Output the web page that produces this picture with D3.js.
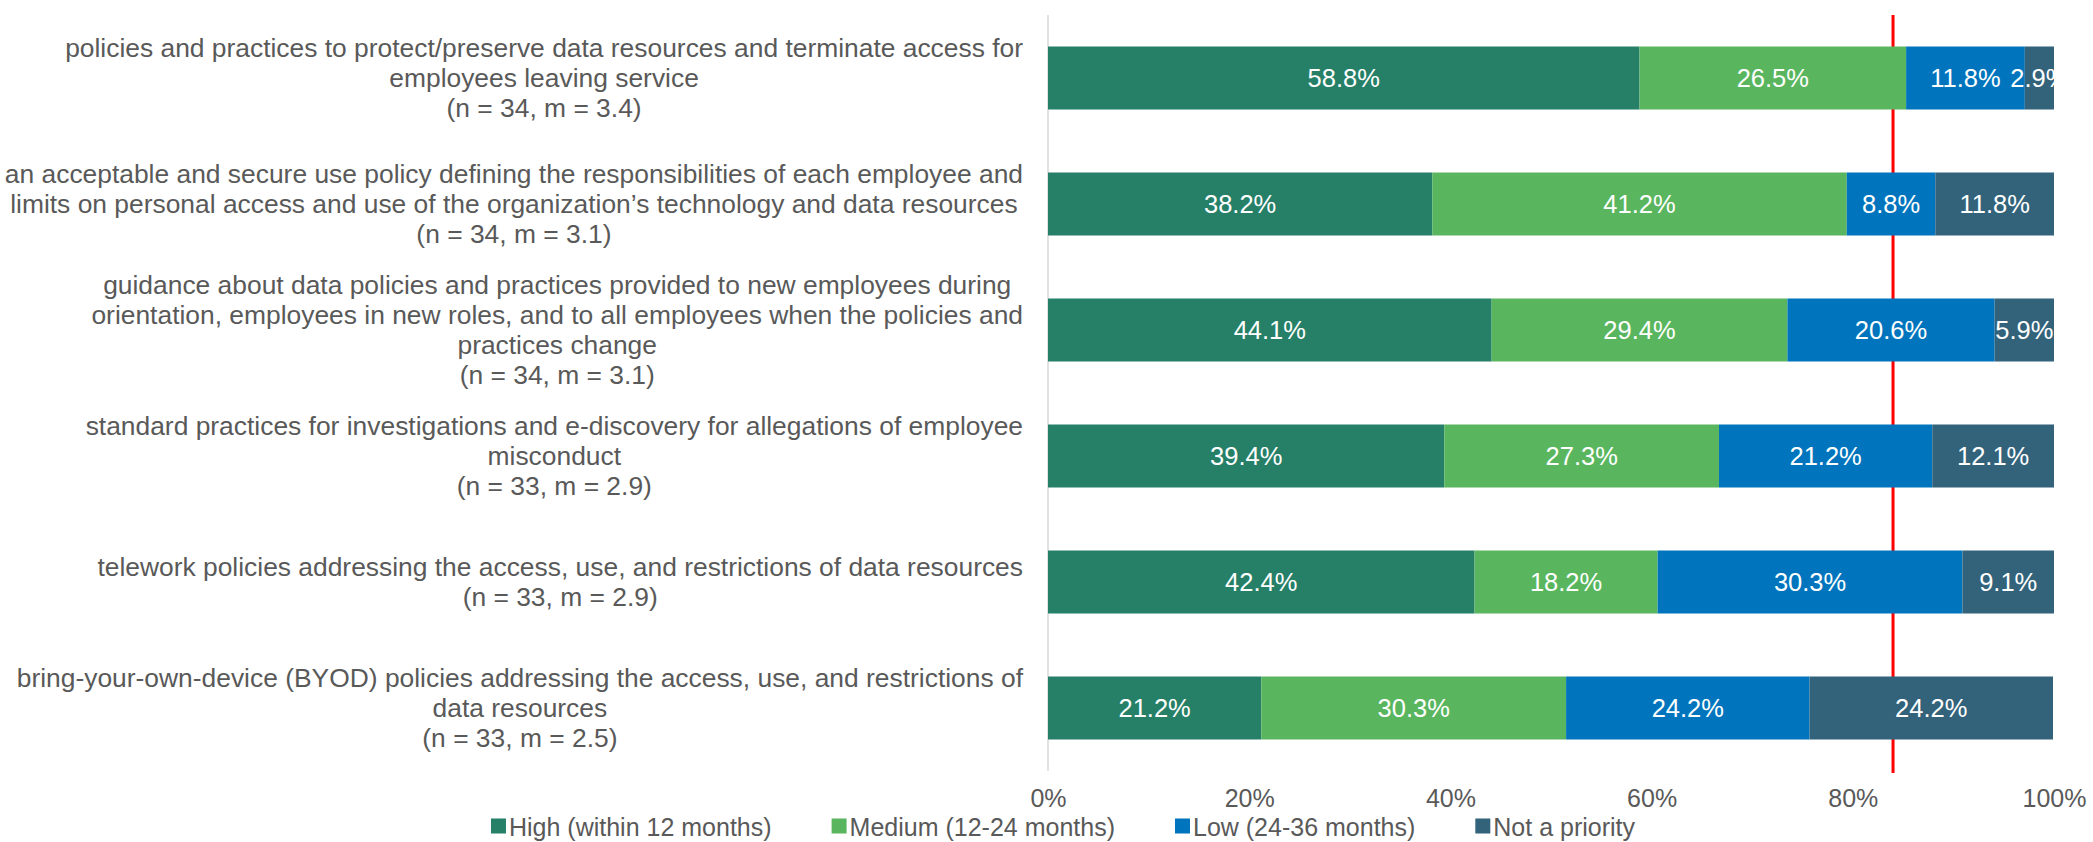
<!DOCTYPE html>
<html>
<head>
<meta charset="utf-8">
<script src="https://cdn.jsdelivr.net/npm/d3@7"></script>
<style>
  body { margin: 0; background: #fff; }
  text { font-family: "Liberation Sans", Arial, sans-serif; }
</style>
</head>
<body>
<svg id="svg"></svg>
<script>
const width = 2093;
const height = 842;

// each category label is already wrapped into lines, as in the source chart
const categories = [
  ["policies and practices to protect/preserve data resources and terminate access for",
   "employees leaving service",
   "(n = 34, m = 3.4)"],
  ["an acceptable and secure use policy defining the responsibilities of each employee and",
   "limits on personal access and use of the organization\u2019s technology and data resources",
   "(n = 34, m = 3.1)"],
  ["guidance about data policies and practices provided to new employees during",
   "orientation, employees in new roles, and to all employees when the policies and",
   "practices change",
   "(n = 34, m = 3.1)"],
  ["standard practices for investigations and e-discovery for allegations of employee",
   "misconduct",
   "(n = 33, m = 2.9)"],
  ["telework policies addressing the access, use, and restrictions of data resources",
   "(n = 33, m = 2.9)"],
  ["bring-your-own-device (BYOD) policies addressing the access, use, and restrictions of",
   "data resources",
   "(n = 33, m = 2.5)"],
];

const seriesNames = [
  "High (within 12 months)",
  "Medium (12-24 months)",
  "Low (24-36 months)",
  "Not a priority",
];

const high = [58.8, 38.2, 44.1, 39.4, 42.4, 21.2];
const medium = [26.5, 41.2, 29.4, 27.3, 18.2, 30.3];
const low = [11.8, 8.8, 20.6, 21.2, 30.3, 24.2];
const notPriority = [2.9, 11.8, 5.9, 12.1, 9.1, 24.2];

const tickValues = [0, 20, 40, 60, 80, 100];
const redLineValue = 84;

const colors = ["#268068", "#59b65e", "#0075bd", "#33637b"];
const textGray = "#595959";
const catFontSize = 26.4;
const fontSize = 25.5;
const bottomFontSize = 25;

let svg = d3.select("#svg").attr("width", width).attr("height", height);

// rows for the stack
const rows = categories.map((c, i) => ({
  id: i,
  lines: c,
  [seriesNames[0]]: high[i],
  [seriesNames[1]]: medium[i],
  [seriesNames[2]]: low[i],
  [seriesNames[3]]: notPriority[i],
}));

const stack = d3.stack().keys(seriesNames)(rows);

const x = d3.scaleLinear().domain([0, 100]).range([1048, 2054]);
const y = d3
  .scaleBand()
  .domain(rows.map((d) => d.id))
  .range([15, 771])
  .paddingInner(0.5)
  .paddingOuter(0.25);

const color = d3.scaleOrdinal().domain(seriesNames).range(colors);

// vertical axis line
svg
  .append("line")
  .attr("x1", x(0))
  .attr("x2", x(0))
  .attr("y1", 15)
  .attr("y2", 771)
  .attr("stroke", "#d9d9d9")
  .attr("stroke-width", 1.5);

// red reference line (sits behind the bars)
svg
  .append("line")
  .attr("x1", x(redLineValue))
  .attr("x2", x(redLineValue))
  .attr("y1", 15)
  .attr("y2", 773)
  .attr("stroke", "#ff0000")
  .attr("stroke-width", 3);

// bars
let series = svg
  .append("g")
  .selectAll("g")
  .data(stack)
  .join("g")
  .attr("fill", (d) => color(d.key));

series
  .selectAll("rect")
  .data((d) => d)
  .join("rect")
  .attr("x", (d) => x(d[0]))
  .attr("y", (d) => y(d.data.id))
  .attr("width", (d) => x(d[1]) - x(d[0]))
  .attr("height", y.bandwidth());

// value labels, white on the bars
let labels = svg.append("g");
stack.forEach((s) => {
  labels
    .selectAll(null)
    .data(s)
    .join("text")
    .attr("x", (d) => x((d[0] + d[1]) / 2))
    .attr("y", (d) => y(d.data.id) + y.bandwidth() / 2)
    .attr("dy", "0.35em")
    .attr("text-anchor", "middle")
    .attr("fill", "#fff")
    .attr("font-size", fontSize)
    .text((d) => (d[1] - d[0]).toFixed(1) + "%");
});

// white cover past 100% so overflowing labels disappear like in the original
svg
  .append("rect")
  .attr("x", x(100))
  .attr("y", 0)
  .attr("width", width - x(100))
  .attr("height", 780)
  .attr("fill", "#fff");

// category labels: lines centred on each other, block right-aligned
const lineHeight = 30;
const labelRight = 1023;
let cat = svg.append("g");
rows.forEach((r) => {
  let g = cat.append("g");
  let n = r.lines.length;
  let cy = y(r.id) + y.bandwidth() / 2;
  let texts = g
    .selectAll("text")
    .data(r.lines)
    .join("text")
    .attr("y", (d, i) => cy + (i - (n - 1) / 2) * lineHeight)
    .attr("dy", "0.35em")
    .attr("text-anchor", "middle")
    .attr("fill", textGray)
    .attr("font-size", catFontSize)
    .text((d) => d);
  let maxW = d3.max(texts.nodes(), (t) => t.getComputedTextLength());
  texts.attr("x", labelRight - maxW / 2);
});

// x axis
let axis = svg
  .append("g")
  .attr("transform", "translate(0,771)")
  .call(
    d3
      .axisBottom(x)
      .tickValues(tickValues)
      .tickFormat((d) => d + "%")
      .tickSize(0)
      .tickPadding(18),
  );
axis.select(".domain").remove();
axis
  .selectAll("text")
  .attr("font-size", bottomFontSize)
  .attr("font-family", '"Liberation Sans", Arial, sans-serif')
  .attr("fill", textGray);

// legend
let legend = svg.append("g");
const legendY = 827;
const boxSize = 15;
const itemGap = 60;
let items = legend
  .selectAll("g")
  .data(seriesNames)
  .join("g");
items
  .append("rect")
  .attr("width", boxSize)
  .attr("height", boxSize)
  .attr("y", legendY - boxSize / 2 - 1)
  .attr("fill", (d) => color(d));
items
  .append("text")
  .attr("x", boxSize + 3)
  .attr("y", legendY)
  .attr("dy", "0.35em")
  .attr("fill", textGray)
  .attr("font-size", bottomFontSize)
  .text((d) => d);

let offsets = [];
let pos = 0;
items.each(function () {
  let w = boxSize + 3 + this.querySelector("text").getComputedTextLength();
  offsets.push(pos);
  pos += w + itemGap;
});
let totalW = pos - itemGap;
let startX = 1063 - totalW / 2;
items.attr("transform", (d, i) => `translate(${startX + offsets[i]},0)`);
</script>
</body>
</html>
